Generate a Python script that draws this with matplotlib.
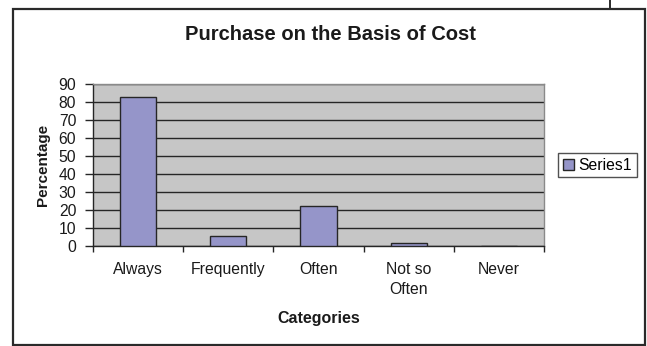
import matplotlib
matplotlib.use("Agg")
import matplotlib.pyplot as plt
from matplotlib.patches import Rectangle
from matplotlib.lines import Line2D
import numpy as np

plt.rcParams['font.family'] = ['Liberation Sans', 'DejaVu Sans']

categories = ["Always", "Frequently", "Often", "Not so\nOften", "Never"]
values = [82.5, 5.5, 22, 1.5, 0]
yticks = list(range(0, 100, 10))
series_name = "Series1"

W, H = 647, 346
fig = plt.figure(figsize=(W / 100, H / 100), dpi=100)
fig.patch.set_facecolor("white")

def fx(px):
    return px / W

def fy(py):
    return 1 - py / H

# outer chart frame
fig.add_artist(Rectangle((fx(13), fy(345)), fx(645) - fx(13), fy(9) - fy(345),
                         transform=fig.transFigure, fill=False,
                         edgecolor="#2a2a2a", linewidth=1.6))
fig.add_artist(Line2D([fx(610), fx(610)], [fy(0), fy(9)], transform=fig.transFigure,
                      color="#2a2a2a", linewidth=1.4))

ax = fig.add_axes([fx(93), fy(245.7), fx(544) - fx(93), fy(84) - fy(245.7)])
ax.set_facecolor("#c6c6c6")

x = np.arange(len(categories))
ax.bar(x, values, width=0.4, color="#9595c9", edgecolor="#262626", linewidth=1.0,
       label=series_name, zorder=3)

ax.set_xlim(-0.5, len(categories) - 0.5)
ax.set_ylim(0, 90)
ax.set_yticks(yticks)
ax.yaxis.grid(True, color="#262626", linewidth=1.0, zorder=1)
ax.set_axisbelow(True)

ax.set_xticks(np.arange(-0.5, len(categories), 1.0))
ax.set_xticklabels([])
ax.set_xticks(x, minor=True)
ax.set_xticklabels(categories, minor=True, fontsize=11.3, color="#1a1a1a", linespacing=1.38)
ax.tick_params(axis="x", which="minor", length=0, pad=12)
ax.tick_params(axis="x", which="major", length=4, width=1, color="#262626", direction="out")
ax.tick_params(axis="y", length=6, width=1, color="#262626", direction="out", pad=6,
               labelsize=11.3, labelcolor="#1a1a1a")

for side in ("top", "right"):
    ax.spines[side].set_color("#8a8a8a")
    ax.spines[side].set_linewidth(1.0)
for side in ("left", "bottom"):
    ax.spines[side].set_color("#262626")
    ax.spines[side].set_linewidth(1.0)

ax.set_ylabel("Percentage", fontsize=11, fontweight="bold", color="#1a1a1a", labelpad=6)
ax.set_xlabel("Categories", fontsize=11.5, fontweight="bold", color="#1a1a1a", labelpad=10)

fig.text(fx(330), fy(35), "Purchase on the Basis of Cost", ha="center", va="center",
         fontsize=14.5, fontweight="bold", color="#1a1a1a")

leg = ax.legend(loc="center left", bbox_to_anchor=(fx(558), fy(165)),
                bbox_transform=fig.transFigure, frameon=True, fancybox=False,
                fontsize=11.3, handlelength=0.7, handleheight=0.7, handletextpad=0.3,
                borderpad=0.3, borderaxespad=0)
leg.get_frame().set_edgecolor("#262626")
leg.get_frame().set_linewidth(1.0)

fig.savefig("out.png", dpi=100, facecolor="white")
